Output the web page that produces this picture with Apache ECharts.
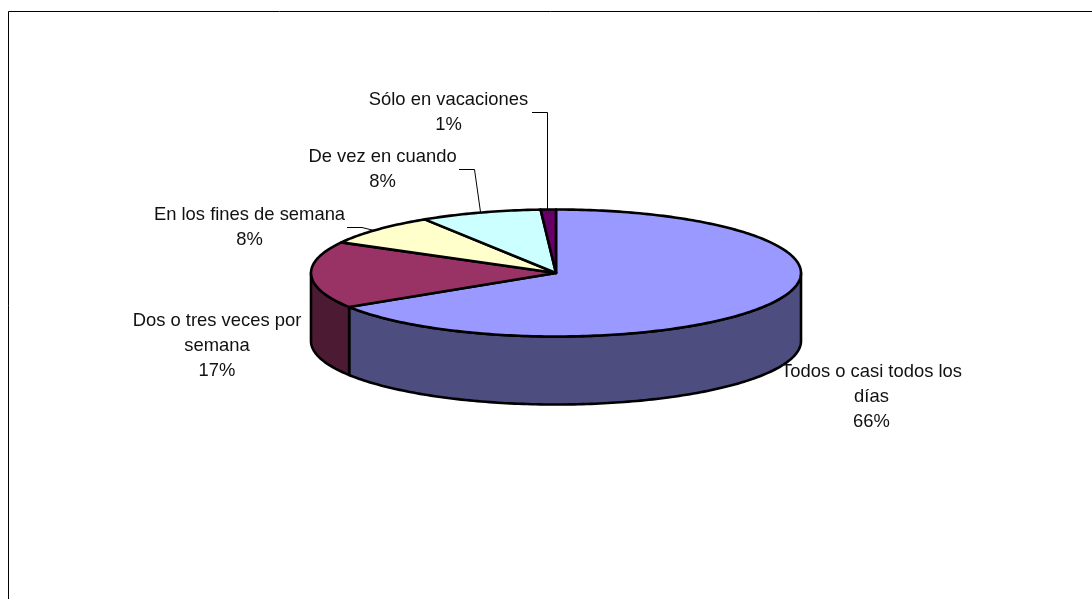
<!DOCTYPE html>
<html>
<head>
<meta charset="utf-8">
<style>html,body{margin:0;padding:0;background:#fff}#c{width:1092px;height:599px}</style>
<script src="https://cdn.jsdelivr.net/npm/echarts@6/dist/echarts.min.js"></script>
</head>
<body>
<div id="c"></div>
<script>
var categories = ['Todos o casi todos los días', 'Dos o tres veces por semana', 'En los fines de semana', 'De vez en cuando', 'Sólo en vacaciones'];
var values = [66, 17, 8, 8, 1];
var percentLabels = ['66%', '17%', '8%', '8%', '1%'];
var topColors = ['#9999FF', '#993366', '#FFFFCC', '#CCFFFF', '#660066'];
var sideColors = ['#4D4D80', '#4D1A33', '#80801A', '#668080', '#330033'];

var CX = 556, CY = 273, RX = 245, RY = 63.5, DEPTH = 68;
var total = values.reduce(function (a, b) { return a + b; }, 0);

function pt(deg, dy) {
  var r = deg * Math.PI / 180;
  return [CX + RX * Math.sin(r), CY - RY * Math.cos(r) + (dy || 0)];
}
function arc(a, b, dy) {
  var out = [], n = Math.max(2, Math.ceil(Math.abs(b - a) / 1));
  for (var i = 0; i <= n; i++) out.push(pt(a + (b - a) * i / n, dy));
  return out;
}
var lineStyle = { stroke: '#000', lineWidth: 2.6, lineJoin: 'round' };

function renderSlice(params, api) {
  var i = params.dataIndex, v = api.value(0);
  var start = 0;
  for (var k = 0; k < i; k++) start += values[k];
  var a0 = start / total * 360, a1 = (start + v) / total * 360;
  var children = [];
  var s0 = Math.max(a0, 90), s1 = Math.min(a1, 270);
  if (s1 > s0) {
    var wall = arc(s0, s1, 0).concat(arc(s1, s0, DEPTH));
    children.push({ type: 'polygon', shape: { points: wall }, z2: 1,
      style: Object.assign({ fill: sideColors[i] }, lineStyle) });
  }
  var top = [[CX, CY]].concat(arc(a0, a1, 0));
  children.push({ type: 'polygon', shape: { points: top }, z2: 2,
    style: Object.assign({ fill: topColors[i] }, lineStyle) });
  return { type: 'group', children: children };
}

var LABELS = [
  { x: 871.5, y: 372, lines: ['Todos o casi todos los', 'días', percentLabels[0]] },
  { x: 217, y: 321, lines: ['Dos o tres veces por', 'semana', percentLabels[1]] },
  { x: 249.5, y: 215, lines: [categories[2], percentLabels[2]] },
  { x: 382.5, y: 157, lines: [categories[3], percentLabels[3]] },
  { x: 448.5, y: 100, lines: [categories[4], percentLabels[4]] }
];
var LEADERS = [
  [[347, 227.5], [362, 227.5], [376, 231]],
  [[459, 169.5], [474.5, 169.5], [480.5, 212]],
  [[532, 112.5], [547.5, 112.5], [547.5, 211]]
];

var graphics = [
  { type: 'line', shape: { x1: 8.5, y1: 11.5, x2: 1092, y2: 11.5 }, style: { stroke: '#000', lineWidth: 1 }, silent: true },
  { type: 'line', shape: { x1: 8.5, y1: 11.5, x2: 8.5, y2: 599 }, style: { stroke: '#000', lineWidth: 1 }, silent: true }
];
LEADERS.forEach(function (p) {
  graphics.push({ type: 'polyline', shape: { points: p }, z: 1, style: { stroke: '#000', lineWidth: 1, fill: null } });
});
LABELS.forEach(function (l) {
  l.lines.forEach(function (t, j) {
    graphics.push({ type: 'text', x: l.x, y: l.y + j * 25, z: 20,
      style: { text: t, fill: '#111', font: '18.4px "Liberation Sans", Arial, sans-serif', textAlign: 'center', textVerticalAlign: 'middle' } });
  });
});

var chart = echarts.init(document.getElementById('c'), null, { renderer: 'canvas' });
chart.setOption({
  animation: false,
  backgroundColor: '#fff',
  series: [{
    type: 'custom',
    coordinateSystem: 'none',
    renderItem: renderSlice,
    data: values.map(function (v, i) { return { value: [v], name: categories[i] }; }),
    z: 5
  }],
  graphic: graphics
});
</script>
</body>
</html>
